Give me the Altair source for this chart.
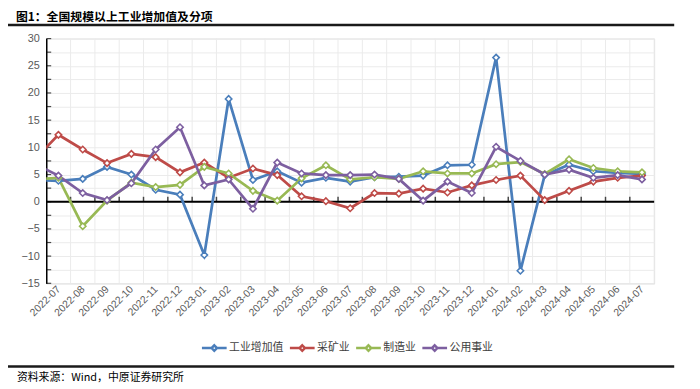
import altair as alt
import pandas as pd

# ---------------- data ----------------
title_text = "图1：全国规模以上工业增加值及分项"
source_text = "资料来源：Wind，中原证券研究所"

months = ["2022-07", "2022-08", "2022-09", "2022-10", "2022-11", "2022-12",
          "2023-01", "2023-02", "2023-03", "2023-04", "2023-05", "2023-06",
          "2023-07", "2023-08", "2023-09", "2023-10", "2023-11", "2023-12",
          "2024-01", "2024-02", "2024-03", "2024-04", "2024-05", "2024-06",
          "2024-07"]
# the lines enter from the left edge: one earlier month (2022-06) is clipped
lead_month = "2022-06"

series_names = ["工业增加值", "采矿业", "制造业", "公用事业"]

iva = [3.95, 3.85, 4.2, 6.4, 5.0, 2.2, 1.3, -9.8, 18.9, 4.0, 5.6, 3.5, 4.4,
       3.7, 4.5, 4.6, 4.8, 6.7, 6.8, 26.5, -12.7, 4.9, 6.8, 5.6, 5.3, 5.1]
mining = [7.7, 12.3, 9.6, 7.1, 8.8, 8.2, 5.4, 7.2, 4.4, 6.1, 4.9, 1.0, 0.1,
          -1.2, 1.6, 1.5, 2.4, 1.7, 3.0, 4.0, 4.8, 0.3, 2.0, 3.7, 4.4, 4.8]
manufacturing = [4.1, 4.4, -4.5, 0.2, 3.5, 2.7, 3.1, 6.4, 5.2, 2.0, 0.2, 4.3,
                 6.7, 4.1, 4.5, 4.2, 5.6, 5.2, 5.2, 6.9, 7.3, 5.1, 7.8, 6.2,
                 5.6, 5.4]
utilities = [7.0, 4.8, 1.6, 0.3, 3.4, 9.6, 13.7, 3.0, 4.1, -1.3, 7.2, 5.2, 4.9,
             4.9, 5.0, 4.2, 0.2, 3.7, 1.6, 10.1, 7.5, 5.0, 5.9, 4.4, 4.9, 4.1]

colors = ["#4A7EBB", "#BE4B48", "#98B954", "#7D5FA0"]

y_min, y_max, y_step = -15, 30, 2.5

# ---------------- frames ----------------
all_months = [lead_month] + months
rows = []
for name, vals in zip(series_names, [iva, mining, manufacturing, utilities]):
    for i, (m, v) in enumerate(zip(all_months, vals)):
        rows.append({"idx": i - 1, "month": m, "series": name, "value": v})
df = pd.DataFrame(rows)
df_pts = df[df["idx"] >= 0]

n = len(months)
x_scale = alt.Scale(domain=[-0.5, n - 0.5], nice=False, zero=False)
y_vals = [y_min + y_step * k for k in range(int((y_max - y_min) / y_step) + 1)]
y_scale = alt.Scale(domain=[y_min, y_max], nice=False, zero=False)

label_expr = "[" + ",".join("'%s'" % m for m in months) + "][round(datum.value)]"

x_axis = alt.Axis(values=list(range(n)), labelExpr=label_expr, labelAngle=-45,
                  labelAlign="right", labelBaseline="middle", labelPadding=4,
                  grid=False, ticks=False, domain=False, title=None,
                  labelFont="Liberation Sans", labelFontSize=10.5,
                  labelColor="#595959", labelOverlap=False, labelBound=False,
                  labelFlush=False)
y_axis = alt.Axis(values=y_vals,
                  labelExpr="datum.value % 5 == 0 ? datum.label : ''",
                  grid=True, gridColor="#EBEBEB", gridWidth=1,
                  ticks=False, domain=True, domainColor="#000000",
                  domainWidth=1.5, title=None, labelPadding=7,
                  labelFont="Liberation Sans", labelFontSize=11,
                  labelColor="#595959", labelOverlap=False, labelFlush=False)


def X(field):
    return alt.X(field, scale=x_scale, axis=x_axis)


def Y(field):
    return alt.Y(field, scale=y_scale, axis=y_axis)


# vertical gridlines at category boundaries
bounds = pd.DataFrame({"b": [k - 0.5 for k in range(1, n + 1)]})
vgrid = alt.Chart(bounds).mark_rule(color="#EBEBEB", strokeWidth=1).encode(
    x=X("b:Q")
)

zero_df = pd.DataFrame({"z": [0]})
zero_line = alt.Chart(zero_df).mark_rule(color="#000000", strokeWidth=2).encode(
    y=Y("z:Q")
)

tick_df = pd.DataFrame({"b": [k - 0.5 for k in range(1, n)], "z": 0})
x_ticks = alt.Chart(tick_df).mark_tick(
    orient="vertical", size=5, thickness=1.5, color="#000000", yOffset=-2.5
).encode(x=X("b:Q"), y=Y("z:Q"))

ytick_df = pd.DataFrame({"v": y_vals, "x0": -0.5})
y_ticks = alt.Chart(ytick_df).mark_tick(
    orient="horizontal", size=5, thickness=1.2, color="#000000", xOffset=2.5
).encode(x=X("x0:Q"), y=Y("v:Q"))

legend_path = "M-1,0L-0.22,0M0.22,0L1,0M0,-0.22L0.22,0L0,0.22L-0.22,0Z"

lines = alt.Chart(df).mark_line(clip=True, strokeWidth=2.75).encode(
    x=X("idx:Q"),
    y=Y("value:Q"),
    color=alt.Color("series:N", sort=series_names,
                    scale=alt.Scale(domain=series_names, range=colors),
                    legend=alt.Legend(
                        title=None, orient="none", direction="horizontal",
                        legendX=156, legendY=299, symbolType=legend_path,
                        symbolSize=625, symbolStrokeWidth=2.5,
                        symbolFillColor="white", labelOffset=1,
                        columnPadding=1, labelFont="Noto Sans CJK SC",
                        labelFontSize=11, labelColor="#404040")),
    order="idx:Q",
    detail="series:N",
)

points = alt.Chart(df_pts).mark_point(
    shape="diamond", filled=False, fill="white", fillOpacity=1,
    size=42, strokeWidth=1.6, clip=True, opacity=1
).encode(
    x=X("idx:Q"),
    y=Y("value:Q"),
    stroke=alt.Stroke("series:N",
                      scale=alt.Scale(domain=series_names, range=colors),
                      legend=None),
)

title_df = pd.DataFrame({"t": [title_text]})
title_mark = alt.Chart(title_df).mark_text(
    align="left", baseline="middle", font="Noto Sans CJK SC", fontSize=12,
    fontWeight="bold", color="#000000"
).encode(x=alt.value(-30.7), y=alt.value(-22.2), text="t:N")

src_df = pd.DataFrame({"t": [source_text]})
src_mark = alt.Chart(src_df).mark_text(
    align="left", baseline="middle", font="Noto Sans CJK SC", fontSize=11,
    color="#000000"
).encode(x=alt.value(-29.7), y=alt.value(343.8), text="t:N")

rule_df = pd.DataFrame({"k": [0]})
top_rule = alt.Chart(rule_df).mark_rule(color="#1A1A1A", strokeWidth=2.5).encode(
    x=alt.value(-38.7), x2=alt.value(635.3), y=alt.value(-13.7)
)
bottom_rule = alt.Chart(rule_df).mark_rule(color="#1A1A1A", strokeWidth=2.5).encode(
    x=alt.value(-38.7), x2=alt.value(635.3), y=alt.value(331.8)
)

chart = alt.layer(
    vgrid, zero_line, x_ticks, y_ticks, lines, points,
    title_mark, src_mark, top_rule, bottom_rule
).properties(
    width=615, height=247.6,
    autosize=alt.AutoSizeParams(type="none"),
    padding={"left": 38.7, "top": 28.7, "right": 38.3, "bottom": 104.7},
).configure_view(stroke=None).configure_axis(
    labelOverlap=False
).configure(background="white")

chart.save("out.html", embed_options={"renderer": "svg", "actions": False})
